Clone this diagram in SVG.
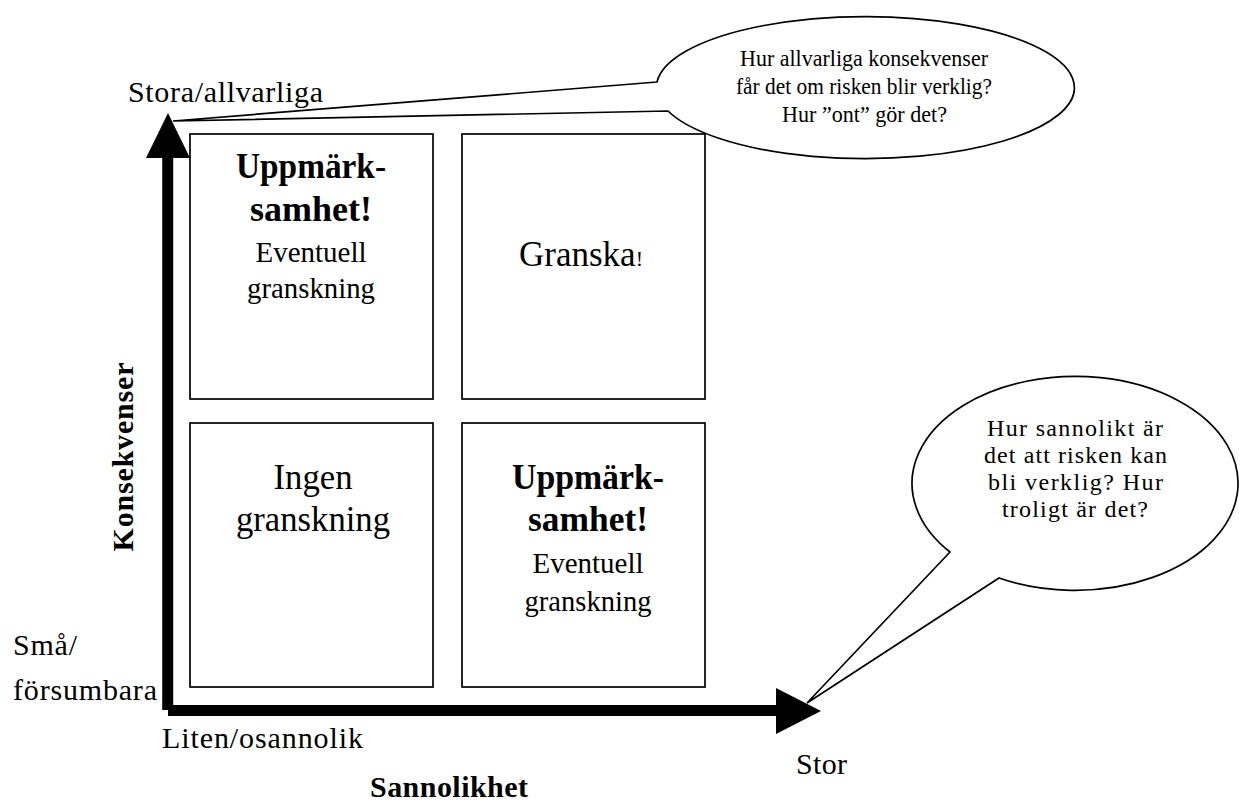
<svg xmlns="http://www.w3.org/2000/svg" width="1246" height="801" viewBox="0 0 1246 801">
<style>
text { font-family: "Liberation Serif", "Times New Roman", serif; fill: #000; }
.lbl { font-size: 30px; }
.b { font-weight: bold; }
.box { fill: #fff; stroke: #000; stroke-width: 1.7; }
.big { font-size: 35px; text-anchor: middle; }
.sm { font-size: 30px; text-anchor: middle; }
.call { fill: #fff; stroke: #000; stroke-width: 1.7; stroke-linejoin: miter; }
.ct { font-size: 23px; text-anchor: middle; }
.ct2 { font-size: 24px; text-anchor: middle; }
.axis { stroke: #000; stroke-width: 11; fill: none; }
.head { fill: #000; stroke: none; }
</style>
<rect width="1246" height="801" fill="#fff"/>

<g id="box-tl">
  <rect class="box" x="190" y="134" width="243" height="265"/>
  <text class="big b" x="311" y="178" textLength="150" lengthAdjust="spacingAndGlyphs">Uppmärk-</text>
  <text class="big b" x="311" y="221" textLength="122" lengthAdjust="spacingAndGlyphs">samhet!</text>
  <text class="sm" x="311" y="262" textLength="111" lengthAdjust="spacingAndGlyphs">Eventuell</text>
  <text class="sm" x="311" y="298" textLength="128" lengthAdjust="spacingAndGlyphs">granskning</text>
</g>
<g id="box-tr">
  <rect class="box" x="462" y="134" width="243" height="265"/>
  <text class="big" x="581" y="266">Granska<tspan style="font-size:22px">!</tspan></text>
</g>
<g id="box-bl">
  <rect class="box" x="190" y="423" width="243" height="264"/>
  <text class="big" x="313" y="489" textLength="79" lengthAdjust="spacingAndGlyphs">Ingen</text>
  <text class="big" x="313" y="531" textLength="154" lengthAdjust="spacingAndGlyphs">granskning</text>
</g>
<g id="box-br">
  <rect class="box" x="462" y="423" width="243" height="264"/>
  <text class="big b" x="588" y="489" textLength="152" lengthAdjust="spacingAndGlyphs">Uppmärk-</text>
  <text class="big b" x="588" y="531" textLength="120" lengthAdjust="spacingAndGlyphs">samhet!</text>
  <text class="sm" x="588" y="573" textLength="111" lengthAdjust="spacingAndGlyphs">Eventuell</text>
  <text class="sm" x="588" y="611" textLength="127" lengthAdjust="spacingAndGlyphs">granskning</text>
</g>

<g id="connectors">
  <line class="axis" x1="167.7" y1="150" x2="167.7" y2="710"/>
  <line class="axis" x1="168" y1="710.5" x2="780" y2="710.5"/>
  <polygon class="head" points="168,113 146,158 190,158"/>
  <polygon class="head" points="821,711 776,688 776,734"/>
</g>

<g id="callout-konsekvenser">
  <path class="call" d="M657,82 L173,121 L668,111 A209,71 0 1 0 657,82 Z"/>
  <text class="ct" x="864" y="66" textLength="248" lengthAdjust="spacingAndGlyphs">Hur allvarliga konsekvenser</text>
  <text class="ct" x="864" y="94" textLength="256" lengthAdjust="spacingAndGlyphs">får det om risken blir verklig?</text>
  <text class="ct" x="864.5" y="122" textLength="165" lengthAdjust="spacingAndGlyphs">Hur ”ont” gör det?</text>
</g>

<g id="callout-sannolikhet">
  <path class="call" d="M950,552 L807,703 L999,578 A163,107 0 1 0 950,552 Z"/>
  <text class="ct2" x="1075" y="436" textLength="176">Hur sannolikt är</text>
  <text class="ct2" x="1075.5" y="463" textLength="183">det att risken kan</text>
  <text class="ct2" x="1075.5" y="490" textLength="175">bli verklig? Hur</text>
  <text class="ct2" x="1075" y="517" textLength="146">troligt är det?</text>
</g>

<g id="labels">
  <text class="lbl" x="128" y="102" textLength="195">Stora/allvarliga</text>
  <text class="lbl" x="13" y="655" textLength="64">Små/</text>
  <text class="lbl" x="13" y="700" textLength="144">försumbara</text>
  <text class="lbl" x="162" y="748" textLength="201">Liten/osannolik</text>
  <text class="lbl" x="796" y="774" textLength="51">Stor</text>
  <text class="lbl b" x="370" y="797" textLength="158">Sannolikhet</text>
  <text class="lbl b" transform="translate(133,457) rotate(-90)" text-anchor="middle" textLength="189">Konsekvenser</text>
</g>
</svg>
